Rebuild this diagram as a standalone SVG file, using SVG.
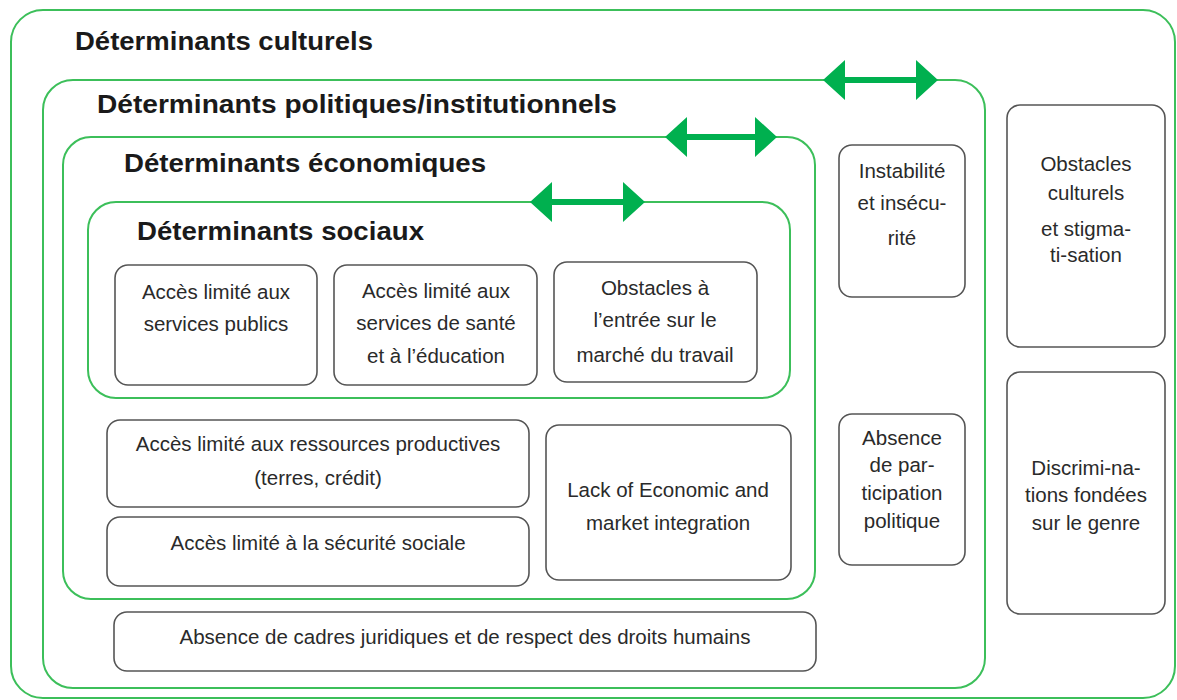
<svg xmlns="http://www.w3.org/2000/svg" width="1177" height="700" viewBox="0 0 1177 700">
<style>
.frame{fill:none;stroke:#3cbf5a;stroke-width:2}
.box{fill:#fff;stroke:#555;stroke-width:1.6}
.title{font-family:"Liberation Sans",Arial,sans-serif;font-weight:bold;font-size:25px;fill:#1a1a1a}
.t{font-family:"Liberation Sans",Arial,sans-serif;font-size:20.5px;fill:#2a2a2a;text-anchor:middle}
.arr{fill:#00b04f}
</style>
<rect width="1177" height="700" fill="#fff"/>
<g id="culturels">
<rect class="frame" x="11" y="10" width="1164" height="688" rx="32"/>
<text class="title" x="75" y="50" textLength="298" lengthAdjust="spacingAndGlyphs">Déterminants culturels</text>
</g>
<g id="politiques">
<rect class="frame" x="43" y="80" width="942" height="608" rx="30"/>
<text class="title" x="97" y="113" textLength="520" lengthAdjust="spacingAndGlyphs">Déterminants politiques/institutionnels</text>
</g>
<g id="economiques">
<rect class="frame" x="63" y="137" width="752" height="462" rx="28"/>
<text class="title" x="124" y="172" textLength="362" lengthAdjust="spacingAndGlyphs">Déterminants économiques</text>
</g>
<g id="sociaux">
<rect class="frame" x="88" y="202" width="702" height="196" rx="28"/>
<text class="title" x="137" y="240" textLength="287" lengthAdjust="spacingAndGlyphs">Déterminants sociaux</text>
</g>
<g id="connectors">
<path class="arr" d="M823,80 L845,60 L845,77 L916,77 L916,60 L938,80 L916,100 L916,83 L845,83 L845,100 Z"/>
<path class="arr" d="M665,137 L687,117 L687,134 L755,134 L755,117 L777,137 L755,157 L755,140 L687,140 L687,157 Z"/>
<path class="arr" d="M530,202 L552,182 L552,199 L623,199 L623,182 L645,202 L623,222 L623,205 L552,205 L552,222 Z"/>
</g>
<g id="services-publics">
<rect class="box" x="115" y="265" width="202" height="120" rx="13"/>
<text class="t" x="216" y="299">Accès limité aux</text>
<text class="t" x="216" y="331">services publics</text>
</g>
<g id="sante-education">
<rect class="box" x="334" y="265" width="203" height="120" rx="13"/>
<text class="t" x="436" y="298">Accès limité aux</text>
<text class="t" x="436" y="330">services de santé</text>
<text class="t" x="436" y="363">et à l’éducation</text>
</g>
<g id="marche-travail">
<rect class="box" x="554" y="262" width="203" height="120" rx="13"/>
<text class="t" x="655" y="295">Obstacles à</text>
<text class="t" x="655" y="327">l’entrée sur le</text>
<text class="t" x="655" y="362">marché du travail</text>
</g>
<g id="ressources-productives">
<rect class="box" x="107" y="420" width="422" height="87" rx="13"/>
<text class="t" x="318" y="451">Accès limité aux ressources productives</text>
<text class="t" x="318" y="485">(terres, crédit)</text>
</g>
<g id="securite-sociale">
<rect class="box" x="107" y="517" width="422" height="69" rx="13"/>
<text class="t" x="318" y="550">Accès limité à la sécurité sociale</text>
</g>
<g id="economic-integration">
<rect class="box" x="546" y="425" width="245" height="155" rx="13"/>
<text class="t" x="668" y="497">Lack of Economic and</text>
<text class="t" x="668" y="530">market integration</text>
</g>
<g id="cadres-juridiques">
<rect class="box" x="114" y="612" width="702" height="59" rx="13"/>
<text class="t" x="465" y="644">Absence de cadres juridiques et de respect des droits humains</text>
</g>
<g id="instabilite">
<rect class="box" x="839" y="145" width="126" height="152" rx="13"/>
<text class="t" x="902" y="178">Instabilité</text>
<text class="t" x="902" y="210">et insécu-</text>
<text class="t" x="902" y="245">rité</text>
</g>
<g id="participation">
<rect class="box" x="839" y="414" width="126" height="151" rx="13"/>
<text class="t" x="902" y="445">Absence</text>
<text class="t" x="902" y="472">de par-</text>
<text class="t" x="902" y="500">ticipation</text>
<text class="t" x="902" y="528">politique</text>
</g>
<g id="obstacles-culturels">
<rect class="box" x="1007" y="105" width="158" height="242" rx="13"/>
<text class="t" x="1086" y="171">Obstacles</text>
<text class="t" x="1086" y="200">culturels</text>
<text class="t" x="1086" y="236">et stigma-</text>
<text class="t" x="1086" y="262">ti-sation</text>
</g>
<g id="discriminations">
<rect class="box" x="1007" y="372" width="158" height="242" rx="13"/>
<text class="t" x="1086" y="475">Discrimi-na-</text>
<text class="t" x="1086" y="502">tions fondées</text>
<text class="t" x="1086" y="530">sur le genre</text>
</g>
</svg>
